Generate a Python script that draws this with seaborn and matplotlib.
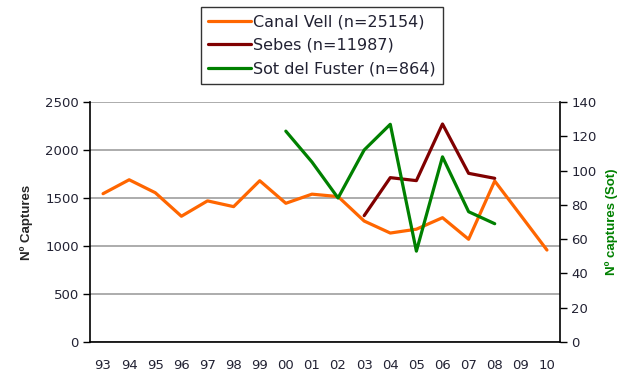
import matplotlib
matplotlib.use("Agg")
import matplotlib.pyplot as plt
import seaborn as sns
import pandas as pd

# Annual capture counts per site
years = ['93', '94', '95', '96', '97', '98', '99', '00', '01',
         '02', '03', '04', '05', '06', '07', '08', '09', '10']
canal_vell = [1545, 1690, 1555, 1310, 1470, 1410, 1680, 1445, 1540,
              1515, 1260, 1135, 1175, 1295, 1070, 1677, 1318, 958]

sebes_years = ['03', '04', '05', '06', '07', '08']
sebes = [1316, 1712, 1681, 2271, 1757, 1705]

sot_years = ['00', '01', '02', '03', '04', '05', '06', '07', '08']
sot = [123, 105, 84, 112, 127, 53, 108, 76, 69]

series_labels = ['Canal Vell (n=25154)', 'Sebes (n=11987)', 'Sot del Fuster (n=864)']
colors = ['#FF6600', '#800000', '#008000']

sns.set_style('white')
plt.rcParams['font.family'] = ['DejaVu Sans']

pos = {y: i for i, y in enumerate(years)}
df_cv = pd.DataFrame({'x': [pos[y] for y in years], 'n': canal_vell})
df_se = pd.DataFrame({'x': [pos[y] for y in sebes_years], 'n': sebes})
df_so = pd.DataFrame({'x': [pos[y] for y in sot_years], 'n': sot})

fig = plt.figure(figsize=(6.25, 3.72), dpi=100)
ax = fig.add_axes([90 / 625, 1 - 342 / 372, 470 / 625, 240 / 372])
ax2 = ax.twinx()

lw = 2.3
sns.lineplot(data=df_cv, x='x', y='n', ax=ax, color=colors[0], lw=lw, label=series_labels[0], legend=False)
sns.lineplot(data=df_se, x='x', y='n', ax=ax, color=colors[1], lw=lw, label=series_labels[1], legend=False)
sns.lineplot(data=df_so, x='x', y='n', ax=ax2, color=colors[2], lw=lw, label=series_labels[2], legend=False)

# Left axis
ax.set_ylim(0, 2500)
ax.set_yticks(range(0, 2501, 500))
ax.set_xlim(-0.5, len(years) - 0.5)
ax.yaxis.grid(True, color='#a6a6a6', lw=1.3)
ax.set_axisbelow(True)
ax.set_xticks(range(len(years)))
ax.set_xticklabels(years)
ax.set_xticks([i - 0.5 for i in range(len(years) + 1)], minor=True)
ax.tick_params(axis='x', which='major', length=0, pad=12, labelsize=9.5, labelcolor='#222233')
ax.tick_params(axis='x', which='minor', length=5, width=1, direction='out', color='black')
ax.tick_params(axis='y', length=5, width=1, direction='out', color='black', labelsize=9.5,
               labelcolor='#222233', pad=3)
ax.set_xlabel('')
ax.set_ylabel('Nº Captures', family='Liberation Sans', fontweight='bold', fontsize=9.5, labelpad=9)

# Right axis
ax2.set_ylim(0, 140)
ax2.set_yticks(range(0, 141, 20))
ax2.tick_params(axis='y', length=5, width=1, direction='out', color='black', labelsize=9.5,
                labelcolor='#222233', pad=3)
ax2.set_ylabel('Nº captures (Sot)', family='Liberation Sans', fontweight='bold', fontsize=9.5,
               color='#008000', labelpad=6)
ax2.set_xlabel('')

for a in (ax, ax2):
    a.spines['top'].set_visible(False)
    for s in ('left', 'right', 'bottom'):
        a.spines[s].set_color('black')
        a.spines[s].set_linewidth(1.2)
ax.spines['right'].set_visible(False)
ax2.spines['left'].set_visible(False)
ax2.spines['bottom'].set_visible(False)

handles = ax.get_lines()[:2] + ax2.get_lines()[:1]
leg = fig.legend(handles, series_labels, loc='upper left', bbox_to_anchor=(201 / 625, 1 - 7 / 372),
                 frameon=True, fancybox=False, edgecolor='black', fontsize=11.5,
                 handlelength=2.7, handletextpad=0.1, borderpad=0.45, labelspacing=0.55,
                 borderaxespad=0)
leg.get_frame().set_linewidth(1.0)
for t in leg.get_texts():
    t.set_color('#222233')

fig.savefig('out.png', dpi=100, facecolor='white')
